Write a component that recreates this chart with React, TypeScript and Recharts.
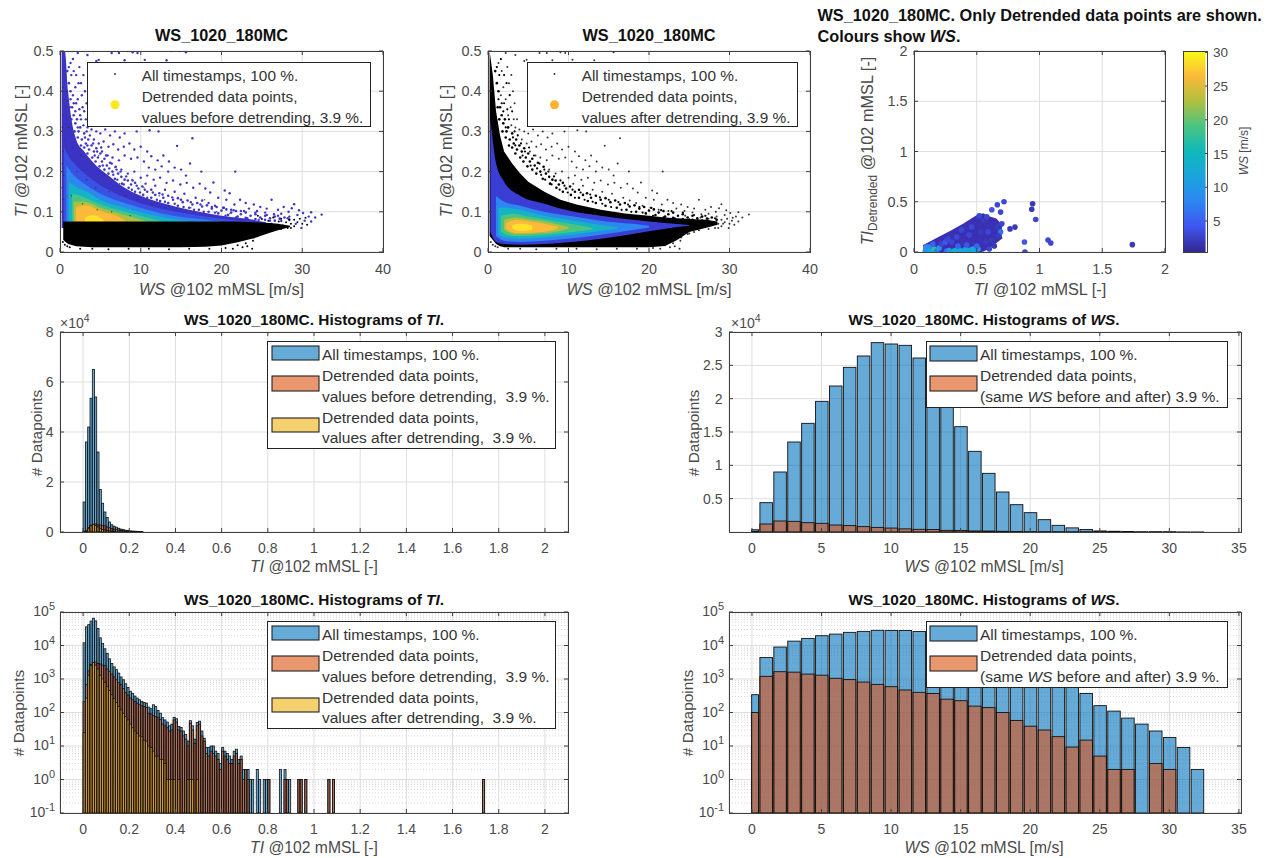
import { Area, Bar, CartesianGrid, ComposedChart, Scatter, XAxis, YAxis } from "recharts";

// ---- values ----

const wsBins = [0, 1, 2, 3, 4, 5, 6, 7, 8, 9, 10, 11, 12, 13, 14, 15, 16, 17, 18, 19, 20, 21, 22, 23, 24, 25, 26, 27, 28, 29, 30, 31, 32];
const wsAll = [340, 4400, 9000, 13500, 16300, 19600, 21900, 24700, 26400, 28400, 28200, 28000, 26100, 23000, 19500, 15800, 12100, 8800, 6000, 4100, 2900, 1850, 1000, 620, 370, 160, 110, 68, 45, 28, 18, 9, 2];
const wsDetrended = [100, 1200, 1650, 1600, 1400, 1300, 1050, 960, 810, 690, 590, 470, 400, 370, 250, 225, 155, 140, 100, 58, 39, 30, 19, 9.3, 15, 5, 2, 2, null, 3, 2, null, null];

// TI histogram, 0.01 wide bins, last bin is the lone 1.735 one
const tiBins = [0.005, 0.015, 0.025, 0.035, 0.045, 0.055, 0.065, 0.075, 0.085, 0.095, 0.105, 0.115, 0.125, 0.135, 0.145, 0.155, 0.165, 0.175, 0.185, 0.195, 0.205, 0.215, 0.225, 0.235, 0.245, 0.255, 0.265, 0.275, 0.285, 0.295, 0.305, 0.315, 0.325, 0.335, 0.345, 0.355, 0.365, 0.375, 0.385, 0.395, 0.405, 0.415, 0.425, 0.435, 0.445, 0.455, 0.465, 0.475, 0.485, 0.495, 0.505, 0.515, 0.525, 0.535, 0.545, 0.555, 0.565, 0.575, 0.585, 0.595, 0.605, 0.615, 0.625, 0.635, 0.645, 0.655, 0.665, 0.675, 0.685, 0.695, 0.705, 0.715, 0.725, 0.735, 0.755, 0.765, 0.785, 0.795, 0.805, 0.855, 0.875, 0.885, 0.895, 0.935, 0.945, 0.965, 1.065, 1.085, 1.735];
const tiAll = [12000, 36000, 42000, 53500, 65000, 54000, 32000, 17000, 11500, 8000, 5800, 4000, 2900, 2300, 1900, 1500, 1150, 950, 720, 560, 430, 370, 310, 270, 240, 215, 200, 190, 145, 130, 170, 150, 115, 95, 70, 60, 52, 40, 45, 72, 65, 38, 36, 28, 22, 14, 57, 40, 16, 50, 55, 28, 17, 9, 9, 10, 10, 7, 6, 3, 9, 7, 6, 5, 4, 7, 8, 4, 5, 2, 2, 2, 1, 1, 2, 1, 1, 1, 1, 2, 2, 1, 1, 1, 1, 1, 1, 1, 1];
const tiBefore = [210, 680, 1750, 2700, 3100, 3200, 2900, 2800, 2600, 2500, 2000, 1700, 1400, 1150, 950, 780, 680, 520, 400, 330, 270, 240, 215, 190, 170, 160, 150, 140, 95, 90, 80, 75, 70, 62, 45, 40, 35, 28, 30, 60, 52, 30, 28, 20, 16, 10, 48, 30, 12, 40, 45, 20, 14, 6, 5, 7, 6, 5, 4, 2, 7, 5, 4, 3, 3, 5, 6, 3, 4, 1, 2, 1, null, null, null, null, null, null, 1, null, 1, 1, null, 1, 1, 1, 1, 1, 1];
const tiAfter = [25, 270, 1300, 2500, 3100, 2600, 2000, 1300, 1000, 800, 600, 450, 340, 260, 200, 150, 120, 95, 75, 60, 45, 35, 28, 24, 20, 19, 15, 14, 10, 9, 7, 5, 5, 4, 4, 3, 1, 1, 1, 1, null, 1, null, null, null, 1, 1, 1, null, 1];

// density contours of the first scatter, [WS, TI low, TI high]
const beforeViolet = [[0.2, 0.06, 0.5], [0.6, 0.06, 0.5], [1, 0.06, 0.4], [1.5, 0.06, 0.32], [2, 0.06, 0.28], [3, 0.06, 0.25], [4, 0.06, 0.225], [6, 0.06, 0.19], [8, 0.06, 0.16], [10, 0.06, 0.14], [13, 0.06, 0.12], [16, 0.06, 0.105], [20, 0.06, 0.09], [24, 0.06, 0.08], [25.5, 0.06, 0.074]];
const beforeBlue = [[0.5, 0.06, 0.26], [1, 0.06, 0.24], [2, 0.06, 0.215], [4, 0.06, 0.18], [6, 0.06, 0.155], [9, 0.06, 0.128], [12, 0.06, 0.11], [15, 0.06, 0.098], [18, 0.06, 0.088], [21, 0.06, 0.08], [24, 0.06, 0.074]];
const beforeSky = [[0.8, 0.06, 0.215], [1.5, 0.06, 0.195], [3, 0.06, 0.17], [5, 0.06, 0.145], [8, 0.06, 0.122], [11, 0.06, 0.104], [14, 0.06, 0.09], [18, 0.06, 0.08], [20, 0.06, 0.075]];
const beforeTeal = [[1.1, 0.06, 0.175], [2, 0.06, 0.162], [3.5, 0.06, 0.148], [5, 0.06, 0.13], [8, 0.06, 0.11], [11, 0.06, 0.094], [14, 0.06, 0.082], [16, 0.06, 0.075]];
const beforeGreen = [[1.5, 0.06, 0.145], [2.5, 0.06, 0.14], [4, 0.06, 0.127], [6, 0.06, 0.112], [9, 0.06, 0.095], [12.5, 0.06, 0.077]];
const beforeOlive = [[1.7, 0.06, 0.125], [3, 0.06, 0.125], [5, 0.06, 0.11], [7.5, 0.06, 0.095], [10.5, 0.06, 0.077]];
const beforeOrange = [[2, 0.06, 0.112], [3.2, 0.06, 0.116], [5, 0.06, 0.102], [7, 0.06, 0.09], [8.2, 0.06, 0.076]];
const beforeYellow = [[3.1, 0.06, 0.085], [4, 0.06, 0.092], [5.4, 0.06, 0.08]];
const beforeBlack = [[0.4, 0.03, 0.076], [1, 0.02, 0.076], [2, 0.014, 0.076], [4, 0.012, 0.076], [10, 0.012, 0.076], [15, 0.012, 0.076], [18, 0.013, 0.076], [20, 0.016, 0.076], [22, 0.024, 0.076], [24, 0.034, 0.074], [26, 0.048, 0.072], [27, 0.054, 0.07], [28.5, 0.062, 0.065]];

// same for the second scatter, values after detrending
const afterBlack = [[0.2, 0.04, 0.5], [0.6, 0.03, 0.44], [1, 0.02, 0.35], [1.5, 0.014, 0.29], [2, 0.012, 0.25], [3, 0.012, 0.22], [4, 0.012, 0.195], [5, 0.012, 0.175], [7, 0.012, 0.15], [9, 0.012, 0.13], [11, 0.012, 0.118], [14, 0.012, 0.105], [17, 0.012, 0.096], [20, 0.012, 0.09], [22, 0.015, 0.086], [23.5, 0.03, 0.084], [25, 0.05, 0.082], [27, 0.06, 0.08], [28.5, 0.068, 0.076]];
const afterViolet = [[0.3, 0.05, 0.33], [1, 0.025, 0.22], [2, 0.02, 0.175], [4, 0.018, 0.14], [7, 0.02, 0.12], [10, 0.024, 0.103], [14, 0.033, 0.09], [18, 0.045, 0.08], [22, 0.058, 0.072], [25, 0.065, 0.067]];
const afterSky = [[1, 0.04, 0.14], [2, 0.028, 0.125], [4, 0.025, 0.115], [7, 0.028, 0.1], [10, 0.033, 0.09], [14, 0.043, 0.078], [18, 0.055, 0.07], [20, 0.061, 0.065]];
const afterTeal = [[1.3, 0.045, 0.11], [2, 0.037, 0.11], [4, 0.033, 0.105], [7, 0.036, 0.09], [10, 0.042, 0.08], [13, 0.05, 0.07], [16, 0.057, 0.062]];
const afterGreen = [[1.6, 0.05, 0.09], [3, 0.04, 0.095], [5, 0.04, 0.088], [8, 0.044, 0.078], [11, 0.051, 0.068], [13, 0.056, 0.06]];
const afterOlive = [[2, 0.055, 0.08], [3.5, 0.044, 0.086], [5.5, 0.045, 0.08], [8, 0.049, 0.072], [10, 0.058, 0.062]];
const afterOrange = [[2.2, 0.058, 0.072], [3.5, 0.047, 0.08], [5.5, 0.048, 0.075], [7.5, 0.052, 0.068], [8.7, 0.06, 0.063]];
const afterYellow = [[3, 0.06, 0.066], [4, 0.052, 0.071], [5.5, 0.055, 0.066]];

// loose points outside the dense cloud, [WS, TI]
const loosePoints = [
  [1, 0.5], [1.5, 0.5], [2.2, 0.495], [3, 0.5], [3.4, 0.49], [4.1, 0.5], [4.8, 0.478], [5, 0.47], [4.5, 0.475], [6.4, 0.495], [7, 0.5], [7.3, 0.495], [8, 0.477], [8.4, 0.5], [9, 0.497], [9.6, 0.495], [10.5, 0.478], [13.2, 0.477], [13.8, 0.5], [14.8, 0.5], [15.6, 0.497],
  [1.3, 0.47], [1.7, 0.45], [2.4, 0.46], [2.9, 0.44], [1.9, 0.41], [2.6, 0.42], [3.1, 0.4], [3.3, 0.37], [2.2, 0.38], [2.8, 0.36], [1.6, 0.39], [3.2, 0.33], [2.5, 0.34], [3.6, 0.33], [3.4, 0.31], [2.9, 0.315],
  [3.9, 0.305], [4.5, 0.3], [5, 0.295], [5.6, 0.305], [6.2, 0.29], [6.8, 0.3], [7.4, 0.285], [8, 0.295], [9.5, 0.3], [11.1, 0.303], [12.2, 0.3], [4.2, 0.28], [4.8, 0.27], [5.4, 0.275], [6, 0.262], [6.6, 0.268], [7.2, 0.255], [7.9, 0.262], [8.6, 0.27], [9.2, 0.255], [10, 0.262], [10.8, 0.25],
  [5.2, 0.25], [5.9, 0.24], [6.5, 0.235], [7.3, 0.228], [8, 0.24], [8.8, 0.232], [9.6, 0.235], [10.4, 0.225], [11.3, 0.238], [12.1, 0.228], [12.8, 0.24], [14.5, 0.264], [16.4, 0.283], [13.5, 0.225], [11, 0.21], [11.8, 0.205], [12.6, 0.213], [13.4, 0.2], [14.2, 0.21], [15, 0.205], [16.1, 0.22], [15.6, 0.19], [17.5, 0.2], [21.7, 0.2],
  [7.6, 0.205], [8.4, 0.195], [9.2, 0.2], [10, 0.185], [10.8, 0.19], [11.6, 0.18], [12.4, 0.185], [13.2, 0.172], [14, 0.178], [14.9, 0.168], [15.7, 0.172], [16.5, 0.16], [17.3, 0.17], [18, 0.158], [19, 0.173], [18.6, 0.148], [20.4, 0.153], [21, 0.146], [19.6, 0.135], [20.6, 0.13], [22.3, 0.13], [21.6, 0.118], [23, 0.122], [24, 0.118], [24.8, 0.112], [26.2, 0.13], [25.6, 0.108], [27, 0.105], [27.7, 0.112], [28.3, 0.1], [29, 0.119], [28.7, 0.109], [29.6, 0.104], [30.1, 0.097], [31.1, 0.099], [32.4, 0.093], [31.6, 0.086], [30.8, 0.088], [29.4, 0.092], [31.1, 0.076], [29.9, 0.06], [29.2, 0.07], [30.3, 0.078], [28.4, 0.088], [27.4, 0.095], [26.5, 0.094], [25.4, 0.098], [24.4, 0.102], [23.4, 0.108],
  [16.8, 0.135], [17.6, 0.128], [18.4, 0.122], [15.4, 0.145], [14.2, 0.15], [13, 0.155], [11.8, 0.165], [10.6, 0.17], [19.2, 0.115], [20.2, 0.11], [21.2, 0.105], [22.4, 0.102],
];
// the ragged rim of the cloud, dots just above the solid part
const rimPoints = [
  [0.9, 0.45], [1.1, 0.42], [1.3, 0.4], [1.2, 0.36], [1.5, 0.36], [1.7, 0.34], [1.4, 0.33], [1.9, 0.32], [2.1, 0.33], [1.8, 0.3], [2.3, 0.3], [2.5, 0.31], [2.2, 0.285], [2.7, 0.28], [3, 0.295], [2.6, 0.265], [3.2, 0.27], [3.5, 0.28], [3, 0.26], [3.6, 0.255], [3.9, 0.265], [3.4, 0.245], [4.2, 0.25], [4.5, 0.258], [4, 0.235], [4.7, 0.235], [5, 0.245], [4.4, 0.225], [5.2, 0.225], [5.5, 0.232], [4.9, 0.213], [5.8, 0.215], [6.2, 0.222], [5.5, 0.205], [6.5, 0.2], [6.9, 0.212], [6, 0.195], [7.2, 0.195], [7.6, 0.187], [6.8, 0.182], [8, 0.18], [8.4, 0.178], [7.7, 0.17], [8.8, 0.168], [9.3, 0.172], [8.5, 0.16], [9.7, 0.158], [10.2, 0.163], [9.3, 0.15], [10.8, 0.15], [11.3, 0.155], [10.3, 0.142], [11.8, 0.142], [12.3, 0.146], [11.3, 0.135], [12.8, 0.135], [13.4, 0.14], [12.4, 0.127], [14, 0.13], [14.6, 0.134], [13.4, 0.122], [15.2, 0.124], [15.8, 0.128], [14.6, 0.115], [16.4, 0.118], [17, 0.122], [16, 0.11], [17.6, 0.113], [18.2, 0.116], [17.2, 0.105], [18.8, 0.108], [19.4, 0.112], [18.4, 0.1], [20, 0.103], [20.6, 0.106], [19.6, 0.096], [21.2, 0.098], [21.8, 0.102], [20.8, 0.092], [22.4, 0.094], [23, 0.098], [22, 0.088], [23.6, 0.09], [24.2, 0.094], [23, 0.085], [24.8, 0.086], [25.4, 0.09], [24.2, 0.082], [26, 0.084], [26.6, 0.088], [25.4, 0.08], [27.2, 0.083], [27.8, 0.086], [26.6, 0.078], [28.4, 0.08],
];
// a second looser ring further out, thick on the left of both scatters
const outerRim = [
  [1.6, 0.48], [2, 0.44], [2.3, 0.42], [1.1, 0.46], [1.4, 0.44], [2.7, 0.39], [2, 0.37], [2.4, 0.355], [1.7, 0.37], [3, 0.35], [2.6, 0.33], [3.3, 0.3], [1.9, 0.35], [2.2, 0.31], [1.3, 0.38], [3.7, 0.29], [3.1, 0.285], [4.1, 0.27], [3.4, 0.265], [4.6, 0.25], [5.1, 0.26], [4.3, 0.24], [5.7, 0.24], [5.3, 0.215], [6.4, 0.22], [6.1, 0.208], [7, 0.205], [6.6, 0.192], [7.5, 0.2], [7.1, 0.18], [8.2, 0.188], [7.9, 0.168], [9, 0.178], [9.5, 0.165], [8.9, 0.155], [10.5, 0.155], [9.9, 0.148], [11.5, 0.148], [10.8, 0.135], [12.7, 0.143], [12, 0.13], [13.9, 0.136], [13, 0.125], [15, 0.13], [14.2, 0.12], [16.2, 0.124], [15.3, 0.112], [17.4, 0.118], [16.6, 0.105], [18.8, 0.112], [17.8, 0.1], [20.3, 0.11], [19.2, 0.098], [21.5, 0.104], [20.5, 0.09], [22.8, 0.102], [21.8, 0.086], [24.2, 0.098], [23.2, 0.084], [25.6, 0.092], [24.6, 0.08], [27, 0.09], [26, 0.078], [28.2, 0.084], [27.4, 0.077],
];
const tailPoints = [[24.5, 0.09], [25, 0.082], [25.4, 0.064], [25.8, 0.078], [26.2, 0.07], [26.4, 0.086], [26.8, 0.062], [27.1, 0.076], [27.4, 0.083], [27.6, 0.066], [28, 0.074], [28.2, 0.06], [28.4, 0.081], [28.6, 0.07], [29, 0.064], [29, 0.08], [29.4, 0.074], [29.7, 0.083], [30, 0.07], [30.4, 0.085], [30.6, 0.068], [25.6, 0.05], [24.8, 0.045], [23.9, 0.028], [23.2, 0.014], [23.8, 0.008], [22.6, 0.012], [21.4, 0.008], [1.2, 0.012], [2.5, 0.008], [4, 0.008], [6, 0.007], [8.5, 0.008], [11, 0.008], [13.5, 0.007], [16, 0.008], [18.5, 0.008], [20.5, 0.01], [22, 0.017], [23, 0.022], [24, 0.036], [25, 0.046], [26.2, 0.054], [27.4, 0.057], [28.6, 0.06], [0.35, 0.025], [0.6, 0.018], [0.9, 0.014]];
// grey dots left over on top of the blue in the first panel
const beforeGrey = [[0.3, 0.1], [0.4, 0.13], [0.25, 0.16], [0.45, 0.19], [0.3, 0.22], [0.35, 0.25], [0.5, 0.28], [0.3, 0.31], [0.4, 0.34], [0.5, 0.38], [0.35, 0.41], [0.6, 0.44], [0.7, 0.36], [0.8, 0.4], [1.1, 0.31], [1.6, 0.26], [2.1, 0.2], [2.6, 0.24], [3.3, 0.18], [3.8, 0.22], [4.4, 0.16], [4.8, 0.24], [5.5, 0.19], [6.1, 0.15], [6.8, 0.21], [7.4, 0.17], [8.1, 0.14], [8.9, 0.18], [9.6, 0.13], [10.4, 0.16], [11.4, 0.12], [12.3, 0.14], [13.5, 0.115], [14.5, 0.264], [14.9, 0.13], [16.2, 0.11], [17.9, 0.13], [19.4, 0.1], [21, 0.095], [1.4, 0.14], [2.8, 0.12], [4.6, 0.105], [6.4, 0.1], [8.7, 0.09]];

// third panel, detrended points, [TI, TI detrended, WS]
const wedge = [[0.075, 0, 0.055], [0.2, 0, 0.135], [0.3, 0, 0.2], [0.4, 0, 0.27], [0.5, 0, 0.35], [0.55, 0.02, 0.37], [0.6, 0.05, 0.34], [0.65, 0.1, 0.32], [0.7, 0.15, 0.25]];
const detrendedPoints = [
  [0.717, 0.5, 3], [0.664, 0.47, 3], [0.62, 0.42, 4], [0.69, 0.397, 3], [0.765, 0.23, 2], [0.805, 0.248, 2], [0.945, 0.48, 2], [0.938, 0.426, 2], [0.97, 0.324, 3], [0.88, 0.1, 4], [0.884, 0, 3], [1.068, 0.12, 3], [1.09, 0.09, 3], [1.74, 0.073, 2],
  [0.7, 0.28, 3], [0.69, 0.2, 6], [0.66, 0.25, 2], [0.67, 0.16, 2], [0.62, 0.12, 2], [0.64, 0.06, 2], [0.6, 0.03, 3], [0.58, 0.35, 3], [0.55, 0.31, 2], [0.52, 0.36, 3], [0.57, 0.1, 2], [0.59, 0.2, 3],
  [0.09, 0.01, 10], [0.1, 0.03, 9], [0.12, 0.05, 8], [0.1, 0.05, 9], [0.13, 0.01, 12], [0.16, 0.03, 17], [0.18, 0.01, 7], [0.2, 0.04, 10], [0.22, 0.08, 3], [0.26, 0.01, 6], [0.28, 0.015, 10], [0.3, 0.1, 3], [0.32, 0.01, 13], [0.33, 0.015, 14], [0.36, 0.02, 12], [0.39, 0.01, 12], [0.41, 0.025, 12], [0.43, 0.015, 13], [0.45, 0.02, 11], [0.47, 0.03, 13], [0.49, 0.015, 12], [0.51, 0.03, 11], [0.5, 0.06, 5], [0.42, 0.07, 4], [0.35, 0.06, 5], [0.25, 0.1, 4], [0.15, 0.08, 5], [0.38, 0.22, 3], [0.46, 0.25, 3], [0.44, 0.17, 3], [0.53, 0.2, 2], [0.34, 0.15, 3], [0.27, 0.13, 3],
];

// ---- styles ----

const FONT = "'Liberation Sans', Arial, sans-serif";
const TEXT = "#4a4a4a";
const FRAME = "#3f3f3f";
const GRID = "#dedede";
const BLUE = "#0072BD";
const RED = "#D95319";
const YELLOW = "#EDB120";
const SWATCH_BLUE = "#66AAD7";
const SWATCH_RED = "#E8976F";
const SWATCH_YELLOW = "#F4D06F";

const PARULA = [
  [0, "#33268f"], [0.125, "#3f55f0"], [0.25, "#2d86f2"], [0.375, "#1aa4dc"], [0.5, "#0fb8bb"],
  [0.625, "#4ac482"], [0.75, "#b0bf3f"], [0.875, "#fcb93a"], [1, "#f9fb15"],
];

// axes get 1px of width/height (0 would stop them drawing), so the margin is 1 short on those sides
const M = { top: 12, right: 24, bottom: 31, left: 55 };
const AXIS_SIZE = 1;
// the marks and labels come from the custom tick functions
const AXIS_BASE = { interval: 0, tickLine: false, axisLine: false, tickSize: 0, tickMargin: 0, allowDataOverflow: true } as const;

const BOXES = {
  before: { x: 60, y: 51, w: 323, h: 201 },
  after: { x: 488, y: 51, w: 322, h: 201 },
  detrended: { x: 914, y: 51, w: 251, h: 201 },
  colorbar: { x: 1183, y: 51, w: 24, h: 201 },
  tiLin: { x: 60, y: 332, w: 508, h: 200 },
  wsLin: { x: 729, y: 332, w: 512, h: 200 },
  tiLog: { x: 60, y: 612, w: 508, h: 201 },
  wsLog: { x: 729, y: 612, w: 512, h: 201 },
};

const TI_RANGE = [-0.1, 2.1];
const WS_RANGE = [-1.65, 35.15];
const tiTicks = [0, 0.2, 0.4, 0.6, 0.8, 1, 1.2, 1.4, 1.6, 1.8, 2];
const wsTicks = [0, 5, 10, 15, 20, 25, 30, 35];
const logTicks = [0.1, 1, 10, 100, 1000, 10000, 100000];
const logMinor = [2, 3, 4, 5, 6, 7, 8, 9].flatMap((m) => [0.1, 1, 10, 100, 1000, 10000].map((d) => m * d));

const TI_BAR = (0.01 / 2.2) * 508;
const WS_BAR = (1 / 36.8) * 512;

// ---- helpers ----

const toBand = (rows: number[][], key = "ws") => rows.map(([x, lo, hi]) => ({ [key]: x, band: [lo, hi] }));
const toPoints = (rows: number[][]) => rows.map(([ws, ti]) => ({ ws, ti }));

const tiRows = tiBins.map((bin, i) => ({ bin, all: tiAll[i], before: tiBefore[i] ?? null, after: tiAfter[i] ?? null }));
const wsRows = wsBins.map((bin, i) => ({ bin, all: wsAll[i], det: wsDetrended[i] }));

function parula(t: number) {
  const hex = (s: string) => [1, 3, 5].map((i) => parseInt(s.slice(i, i + 2), 16));
  const k = Math.max(0, PARULA.findIndex(([p]) => (p as number) >= t) - 1);
  const [p0, c0] = PARULA[k];
  const [p1, c1] = PARULA[k + 1];
  const f = (t - (p0 as number)) / ((p1 as number) - (p0 as number));
  const a = hex(c0 as string);
  const b = hex(c1 as string);
  return `rgb(${a.map((v, i) => Math.round(v + (b[i] - v) * f)).join(",")})`;
}

const xTick = (h: number, size: number, drop = 22) => (p: any) => (
  <g>
    <line x1={p.x} x2={p.x} y1={p.y} y2={p.y - 4} stroke={FRAME} />
    <line x1={p.x} x2={p.x} y1={p.y - h} y2={p.y - h + 4} stroke={FRAME} />
    <text x={p.x} y={p.y + drop} textAnchor="middle" fontSize={size} fontFamily={FONT} fill={TEXT}>{p.payload.value}</text>
  </g>
);

const yTick = (w: number, size: number, scale = 1, log = false) => (p: any) => (
  <g>
    <line x1={p.x} x2={p.x + 4} y1={p.y} y2={p.y} stroke={FRAME} />
    <line x1={p.x + w} x2={p.x + w - 4} y1={p.y} y2={p.y} stroke={FRAME} />
    {log ? (
      <text x={p.x - 5} y={p.y + 4} textAnchor="end" fontSize={size} fontFamily={FONT} fill={TEXT}>
        10<tspan dy={-6} fontSize={size - 3}>{Math.round(Math.log10(p.payload.value))}</tspan>
      </text>
    ) : (
      <text x={p.x - 6.5} y={p.y + 5} textAnchor="end" fontSize={size} fontFamily={FONT} fill={TEXT}>{p.payload.value / scale}</text>
    )}
  </g>
);

const dot = (fill: string, r: number, opacity = 1) => (p: any) => <circle cx={p.cx} cy={p.cy} r={r} fill={fill} fillOpacity={opacity} />;

const wsDot = (p: any) => <circle cx={p.cx} cy={p.cy} r={2.8} fill={parula((p.payload.c - 0.4) / 29.8)} />;

// the first WS bin only starts at 0, so it is narrower than the others
const wsBarShape = (p: any) => {
  if (!(p.height > 0)) return null;
  const left = p.payload.bin === 0 ? p.x + p.width / 2 - 0.6 : p.x;
  const right = p.x + p.width;
  return <rect x={left} y={p.y} width={right - left} height={p.height} fill={p.fill} fillOpacity={0.6} stroke="#111" strokeWidth={0.9} />;
};

// counts of a few points on the linear axis are flatter than their own outline, leave those out
const tiBarShape = (p: any) => {
  if (!(p.height > 0.5)) return null;
  return <rect x={p.x} y={p.y} width={p.width} height={p.height} fill={p.fill} fillOpacity={0.6} stroke="#111" strokeWidth={0.8} />;
};

function Panel({ box, data, margin = M, children }: any) {
  const isDefault = margin === M;
  return (
    <div style={{ position: "absolute", left: box.x - margin.left - (isDefault ? AXIS_SIZE : 0), top: box.y - margin.top }}>
      <ComposedChart
        data={data}
        width={box.w + margin.left + margin.right + AXIS_SIZE}
        height={box.h + margin.top + margin.bottom + (isDefault ? AXIS_SIZE : 0)}
        margin={margin}
      >
        {children}
      </ComposedChart>
    </div>
  );
}

function Cloud({ rows, fill, monotone = true }: any) {
  return <Area data={toBand(rows)} dataKey="band" type={monotone ? "monotone" : "linear"} fill={fill} fillOpacity={1} stroke="none" dot={false} activeDot={false} isAnimationActive={false} />;
}

// ---- panels ----

function ScatterAxes({ box }: any) {
  return (
    <>
      <CartesianGrid stroke={GRID} />
      <XAxis {...AXIS_BASE} type="number" dataKey="ws" domain={[0, 40]} ticks={[0, 10, 20, 30, 40]} height={AXIS_SIZE} tick={xTick(box.h, 14.4)} />
      <YAxis {...AXIS_BASE} type="number" dataKey="ti" domain={[0, 0.5]} ticks={[0, 0.1, 0.2, 0.3, 0.4, 0.5]} width={AXIS_SIZE} tick={yTick(box.w, 14.4)} />
    </>
  );
}

function BeforePanel() {
  return (
    <Panel box={BOXES.before}>
      <ScatterAxes box={BOXES.before} />
      <Scatter data={toPoints(loosePoints)} shape={dot("#3d35c8", 1.2)} isAnimationActive={false} />
      <Scatter data={toPoints(outerRim)} shape={dot("#3d35c8", 1.2)} isAnimationActive={false} />
      <Scatter data={toPoints(rimPoints)} shape={dot("#3d35c8", 1.3)} isAnimationActive={false} />
      <Cloud rows={beforeViolet} fill="#3b33c4" />
      <Cloud rows={beforeBlue} fill="#3a52e4" />
      <Cloud rows={beforeSky} fill="#2c88ee" />
      <Cloud rows={beforeTeal} fill="#14b4c4" />
      <Cloud rows={beforeGreen} fill="#4ac482" />
      <Cloud rows={beforeOlive} fill="#b0bf3f" />
      <Cloud rows={beforeOrange} fill="#fcb93a" />
      <Cloud rows={beforeYellow} fill="#fde12a" />
      <Scatter data={toPoints(beforeGrey)} shape={dot("#333", 0.8, 0.75)} isAnimationActive={false} />
      <Cloud rows={beforeBlack} fill="#000" monotone={false} />
      <Scatter data={toPoints(tailPoints)} shape={dot("#000", 1)} isAnimationActive={false} />
    </Panel>
  );
}

function AfterPanel() {
  return (
    <Panel box={BOXES.after}>
      <ScatterAxes box={BOXES.after} />
      <Scatter data={toPoints(loosePoints)} shape={dot("#111", 1, 0.85)} isAnimationActive={false} />
      <Scatter data={toPoints(outerRim)} shape={dot("#000", 1.1)} isAnimationActive={false} />
      <Scatter data={toPoints(rimPoints)} shape={dot("#000", 1.3)} isAnimationActive={false} />
      <Scatter data={toPoints(tailPoints)} shape={dot("#111", 1, 0.85)} isAnimationActive={false} />
      <Cloud rows={afterBlack} fill="#000" monotone={false} />
      <Cloud rows={afterViolet} fill="#3a3ed4" />
      <Cloud rows={afterSky} fill="#2c88ee" />
      <Cloud rows={afterTeal} fill="#14b4c4" />
      <Cloud rows={afterGreen} fill="#4ac482" />
      <Cloud rows={afterOlive} fill="#b0bf3f" />
      <Cloud rows={afterOrange} fill="#fcb93a" />
      <Cloud rows={afterYellow} fill="#fde12a" />
    </Panel>
  );
}

function DetrendedPanel() {
  const box = BOXES.detrended;
  const pts = detrendedPoints.map(([ti, det, c]) => ({ ti, det, c }));
  const ticks = [0, 0.5, 1, 1.5, 2];
  return (
    <Panel box={box}>
      <CartesianGrid stroke={GRID} />
      <XAxis {...AXIS_BASE} type="number" dataKey="ti" domain={[0, 2]} ticks={ticks} height={AXIS_SIZE} tick={xTick(box.h, 14.4)} />
      <YAxis {...AXIS_BASE} type="number" dataKey="det" domain={[0, 2]} ticks={ticks} width={AXIS_SIZE} tick={yTick(box.w, 14.4)} />
      <Area data={toBand(wedge, "ti")} dataKey="band" type="linear" fill="#3a30b4" fillOpacity={1} stroke="#3a30b4" strokeWidth={3} dot={false} activeDot={false} isAnimationActive={false} />
      <Scatter data={pts} shape={wsDot} isAnimationActive={false} />
    </Panel>
  );
}

const colorbarRows = [{ name: "WS", range: [0.4, 30.2] }];

function ColorbarPanel() {
  const box = BOXES.colorbar;
  const cbTick = (p: any) => (
    <g>
      <line x1={p.x} x2={p.x - 2} y1={p.y} y2={p.y} stroke={FRAME} />
      <text x={p.x + 6} y={p.y + 5} fontSize={13.5} fontFamily={FONT} fill={TEXT}>{p.payload.value}</text>
    </g>
  );
  return (
    <Panel box={box} data={colorbarRows} margin={{ top: M.top, right: 42, bottom: 32, left: 56 }}>
      <defs>
        <linearGradient id="parula" x1="0" y1="1" x2="0" y2="0">
          {PARULA.map(([p, c]) => <stop key={p} offset={p as number} stopColor={c as string} />)}
        </linearGradient>
      </defs>
      <XAxis dataKey="name" hide />
      <YAxis {...AXIS_BASE} orientation="right" type="number" domain={[0.4, 30.2]} ticks={[5, 10, 15, 20, 25, 30]} width={AXIS_SIZE} tick={cbTick} />
      <Bar dataKey="range" fill="url(#parula)" barSize={box.w} isAnimationActive={false} />
    </Panel>
  );
}

function TiHist({ box, log }: any) {
  const yProps = log
    ? { scale: "log" as const, domain: [0.1, 100000], ticks: logTicks, tick: yTick(box.w, 14, 1, true) }
    : { domain: [0, 80000], ticks: [0, 20000, 40000, 60000, 80000], tick: yTick(box.w, 14, 10000) };
  return (
    <Panel box={box} data={tiRows}>
      {log && <CartesianGrid stroke="#d8d8d8" strokeDasharray="1 2" vertical={false} horizontalValues={logMinor} />}
      <CartesianGrid stroke={GRID} />
      <XAxis {...AXIS_BASE} type="number" dataKey="bin" domain={TI_RANGE} ticks={tiTicks} height={AXIS_SIZE} tick={xTick(box.h, 14, 21)} />
      <XAxis xAxisId="b" hide type="number" dataKey="bin" domain={TI_RANGE} allowDataOverflow />
      <XAxis xAxisId="c" hide type="number" dataKey="bin" domain={TI_RANGE} allowDataOverflow />
      <YAxis {...AXIS_BASE} type="number" width={AXIS_SIZE} {...yProps} />
      <Bar dataKey="all" fill={BLUE} barSize={TI_BAR} shape={tiBarShape} isAnimationActive={false} />
      <Bar xAxisId="b" dataKey="before" fill={RED} barSize={TI_BAR} shape={tiBarShape} isAnimationActive={false} />
      <Bar xAxisId="c" dataKey="after" fill={YELLOW} barSize={TI_BAR} shape={tiBarShape} isAnimationActive={false} />
    </Panel>
  );
}

function WsHist({ box, log }: any) {
  const yProps = log
    ? { scale: "log" as const, domain: [0.1, 100000], ticks: logTicks, tick: yTick(box.w, 14, 1, true) }
    : { domain: [0, 30000], ticks: [5000, 10000, 15000, 20000, 25000, 30000], tick: yTick(box.w, 14, 10000) };
  return (
    <Panel box={box} data={wsRows}>
      {log && <CartesianGrid stroke="#d8d8d8" strokeDasharray="1 2" vertical={false} horizontalValues={logMinor} />}
      <CartesianGrid stroke={GRID} />
      <XAxis {...AXIS_BASE} type="number" dataKey="bin" domain={WS_RANGE} ticks={wsTicks} height={AXIS_SIZE} tick={xTick(box.h, 14, 21)} />
      <XAxis xAxisId="b" hide type="number" dataKey="bin" domain={WS_RANGE} allowDataOverflow />
      <YAxis {...AXIS_BASE} type="number" width={AXIS_SIZE} {...yProps} />
      <Bar dataKey="all" fill={BLUE} barSize={WS_BAR} shape={wsBarShape} isAnimationActive={false} />
      <Bar xAxisId="b" dataKey="det" fill={RED} barSize={WS_BAR} shape={wsBarShape} isAnimationActive={false} />
    </Panel>
  );
}

// ---- text, frames and legends on top of the charts ----

function Title({ x, y, size = 16.3, anchor = "middle", children }: any) {
  return <text x={x} y={y} textAnchor={anchor} fontSize={size} fontWeight="bold" fontFamily={FONT} fill="#111">{children}</text>;
}

function XLabel({ x, y, size, children }: any) {
  return <text x={x} y={y} textAnchor="middle" fontSize={size} fontFamily={FONT} fill={TEXT}>{children}</text>;
}

function YLabel({ x, y, size, children }: any) {
  return <text transform={`translate(${x},${y}) rotate(-90)`} textAnchor="middle" fontSize={size} fontFamily={FONT} fill={TEXT}>{children}</text>;
}

const I = ({ children }: any) => <tspan fontStyle="italic">{children}</tspan>;

function Frame({ box }: any) {
  return <rect x={box.x + 0.5} y={box.y + 0.5} width={box.w} height={box.h} fill="none" stroke={FRAME} strokeWidth={1} />;
}

function ScatterLegend({ x, w, dotX, textX, dotFill, last }: any) {
  return (
    <g fontFamily={FONT} fontSize={15.4} fill="#333">
      <rect x={x} y={62.5} width={w} height={64} fill="#fff" stroke="#222" strokeWidth={1} />
      <circle cx={dotX} cy={74} r={0.9} fill="#222" />
      <circle cx={dotX} cy={104.7} r={4.5} fill={dotFill} />
      <text x={textX} y={81}>All timestamps, 100 %.</text>
      <text x={textX} y={102}>Detrended data points,</text>
      <text x={textX} y={123}>{last}</text>
    </g>
  );
}

function Swatch({ x, y, h, fill }: any) {
  return <rect x={x} y={y} width={47} height={h} fill={fill} stroke="#222" strokeWidth={1.1} />;
}

function TiLegend({ top }: any) {
  const x = 267;
  return (
    <g fontFamily={FONT} fontSize={15.5} fill="#333">
      <rect x={x + 0.5} y={top + 0.5} width={288} height={107} fill="#fff" stroke="#222" strokeWidth={1} />
      <Swatch x={x + 5} y={top + 5} h={14} fill={SWATCH_BLUE} />
      <Swatch x={x + 5} y={top + 35} h={15} fill={SWATCH_RED} />
      <Swatch x={x + 5} y={top + 77} h={14} fill={SWATCH_YELLOW} />
      <text x={x + 55} y={top + 19}>All timestamps, 100 %.</text>
      <text x={x + 55} y={top + 40}>Detrended data points,</text>
      <text x={x + 55} y={top + 61}>{"values before detrending,\u00a0 3.9 %."}</text>
      <text x={x + 55} y={top + 82}>Detrended data points,</text>
      <text x={x + 55} y={top + 102}>{"values after detrending,\u00a0 3.9 %."}</text>
    </g>
  );
}

function WsLegend({ top }: any) {
  const x = 926;
  return (
    <g fontFamily={FONT} fontSize={15.5} fill="#333">
      <rect x={x + 0.5} y={top + 0.5} width={301} height={66} fill="#fff" stroke="#222" strokeWidth={1} />
      <Swatch x={x + 4} y={top + 5} h={15} fill={SWATCH_BLUE} />
      <Swatch x={x + 4} y={top + 35} h={15} fill={SWATCH_RED} />
      <text x={x + 54} y={top + 19}>All timestamps, 100 %.</text>
      <text x={x + 54} y={top + 40}>Detrended data points,</text>
      <text x={x + 54} y={top + 61}>(same <I>WS</I> before and after) 3.9 %.</text>
    </g>
  );
}

function Overlay() {
  const b = BOXES;
  return (
    <svg width={1274} height={858} style={{ position: "absolute", left: 0, top: 0, pointerEvents: "none" }}>
      {Object.values(b).map((box, i) => <Frame key={i} box={box} />)}

      <Title x={221.5} y={41}>WS_1020_180MC</Title>
      <XLabel x={221.5} y={295} size={16.3}><I>WS</I> @102 mMSL [m/s]</XLabel>
      <YLabel x={27} y={151} size={16.3}><I>TI</I> @102 mMSL [-]</YLabel>
      <ScatterLegend x={87.5} w={283} dotX={115} textX={141.7} dotFill="#f8e81c" last="values before detrending, 3.9 %." />

      <Title x={649} y={41}>WS_1020_180MC</Title>
      <XLabel x={649} y={295} size={16.3}><I>WS</I> @102 mMSL [m/s]</XLabel>
      <YLabel x={452} y={151} size={16.3}><I>TI</I> @102 mMSL [-]</YLabel>
      <ScatterLegend x={527.5} w={270} dotX={554.5} textX={581.7} dotFill="#fdb32f" last="values after detrending, 3.9 %." />

      <Title x={817.5} y={21} anchor="start">WS_1020_180MC. Only Detrended data points are shown.</Title>
      <Title x={817.5} y={42} anchor="start">Colours show <I>WS</I>.</Title>
      <XLabel x={1040} y={295} size={16.3}><I>TI</I> @102 mMSL [-]</XLabel>
      <YLabel x={873} y={151} size={16.3}><I>TI</I><tspan dy={4} fontSize={12}>Detrended</tspan><tspan dy={-4}> @102 mMSL [-]</tspan></YLabel>
      <YLabel x={1248} y={151} size={12}><I>WS</I> [m/s]</YLabel>

      <Title x={314} y={325} size={15.4}>WS_1020_180MC. Histograms of <I>TI</I>.</Title>
      <XLabel x={314} y={572} size={15.7}><I>TI</I> @102 mMSL [-]</XLabel>
      <YLabel x={41.5} y={433} size={15.4}># Datapoints</YLabel>
      <text x={60} y={328} fontSize={14} fontFamily={FONT} fill={TEXT}>×10<tspan dy={-6} fontSize={10.5}>4</tspan></text>
      <TiLegend top={341} />

      <Title x={984} y={325} size={15.4}>WS_1020_180MC. Histograms of <I>WS</I>.</Title>
      <XLabel x={984} y={572} size={15.7}><I>WS</I> @102 mMSL [m/s]</XLabel>
      <YLabel x={699} y={433} size={15.4}># Datapoints</YLabel>
      <text x={731} y={328} fontSize={14} fontFamily={FONT} fill={TEXT}>×10<tspan dy={-6} fontSize={10.5}>4</tspan></text>
      <WsLegend top={341} />

      <Title x={314} y={605} size={15.4}>WS_1020_180MC. Histograms of <I>TI</I>.</Title>
      <XLabel x={314} y={853} size={15.7}><I>TI</I> @102 mMSL [-]</XLabel>
      <YLabel x={23.5} y={713} size={15.4}># Datapoints</YLabel>
      <TiLegend top={621} />

      <Title x={984} y={605} size={15.4}>WS_1020_180MC. Histograms of <I>WS</I>.</Title>
      <XLabel x={984} y={853} size={15.7}><I>WS</I> @102 mMSL [m/s]</XLabel>
      <YLabel x={693} y={713} size={15.4}># Datapoints</YLabel>
      <WsLegend top={621} />
    </svg>
  );
}

export default function App() {
  return (
    <div style={{ position: "absolute", left: 0, top: 0, width: 1274, height: 858, background: "#fff", overflow: "hidden" }}>
      <BeforePanel />
      <AfterPanel />
      <DetrendedPanel />
      <ColorbarPanel />
      <TiHist box={BOXES.tiLin} />
      <WsHist box={BOXES.wsLin} />
      <TiHist box={BOXES.tiLog} log />
      <WsHist box={BOXES.wsLog} log />
      <Overlay />
    </div>
  );
}
